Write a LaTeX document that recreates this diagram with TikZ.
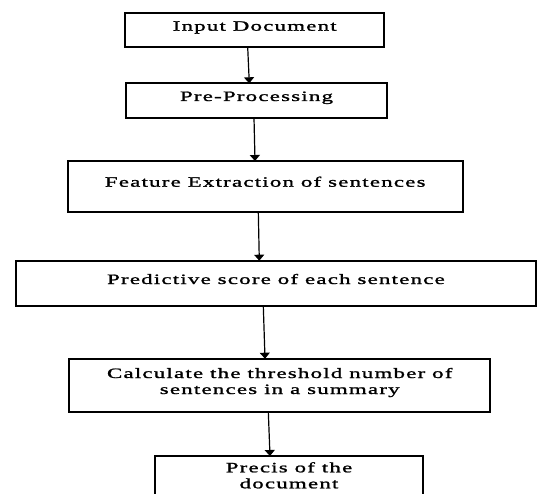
\documentclass[tikz,border=0pt]{standalone}
\usepackage{fontspec}
\usetikzlibrary{calc}
\usetikzlibrary{arrows.meta}
\newfontfamily\stagefont[FakeStretch=1.6,LetterSpace=8.5,FakeBold=1.4]{Liberation Serif}
\tikzstyle{stagebox}=[draw=black,line width=1.8pt,inner sep=0pt,outer sep=0pt,anchor=base,align=center,font=\stagefont\fontsize{14.3}{16}\selectfont]
\tikzstyle{flow}=[line width=1.2pt,-{Triangle[width=10pt,length=6pt]}]

\begin{document}
\begin{tikzpicture}[x=1pt,y=-1pt]
	\clip (0,0) rectangle (537,494);
	% stages, placed at the baseline of their last text line
	\node[stagebox,minimum width=259.3pt,text height=18pt,text depth=16.6pt] (input) at (254.7,30.7) {Input Document};
	\node[stagebox,minimum width=261pt,text height=17.7pt,text depth=17pt] (prep) at (256.5,101) {Pre-Processing};
	\node[stagebox,minimum width=395pt,text height=25.7pt,text depth=25pt] (feat) at (265.2,186.7) {Feature Extraction of sentences};
	\node[stagebox,minimum width=520.3pt,text height=23.3pt,text depth=22pt] (score) at (275.9,284) {Predictive score of each sentence};
	\node[stagebox,minimum width=421.3pt,text height=35.3pt,text depth=17.7pt] (thresh) at (279.7,394) {Calculate the threshold number of\\sentences in a summary};
	\node[stagebox,minimum width=268pt,text height=32.3pt,text depth=14pt] (precis) at (289,488.3) {Precis of the\\document};
	% arrows sit a little left of the box centres
	\draw[flow] ([xshift=-7pt]input.south) -- ([xshift=-7.2pt]prep.north);
	\draw[flow] ([xshift=-2.5pt]prep.south) -- ([xshift=-10.2pt]feat.north);
	\draw[flow] ([xshift=-6.9pt]feat.south) -- ([xshift=-16.6pt]score.north);
	\draw[flow] ([xshift=-12.6pt]score.south) -- ([xshift=-14.7pt]thresh.north);
	\draw[flow] ([xshift=-11.4pt]thresh.south) -- ([xshift=-19pt]precis.north);
\end{tikzpicture}
\end{document}
